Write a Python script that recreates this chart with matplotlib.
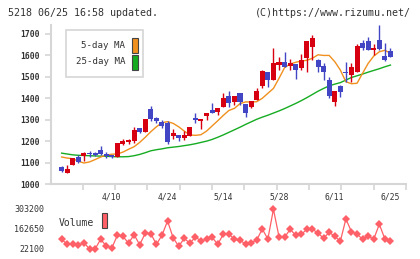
import matplotlib
matplotlib.use('Agg')
import matplotlib.pyplot as plt
from matplotlib.patches import Rectangle
import numpy as np

# daily candles (first one is the day before the period)
opens = [1129, 1079, 1053, 1090, 1124, 1129, 1145, 1146, 1159, 1139,
         1134, 1124, 1188, 1197, 1202, 1261, 1244, 1349, 1308, 1289,
         1286, 1225, 1229, 1215, 1225, 1308, 1294, 1317, 1345, 1336,
         1361, 1409, 1384, 1423, 1373, 1357, 1393, 1457, 1523, 1487,
         1557, 1569, 1549, 1560, 1543, 1587, 1639, 1580, 1551, 1485,
         1384, 1457, 1524, 1509, 1524, 1658, 1667, 1627, 1672, 1597,
         1621]
closes = [1131, 1062, 1070, 1121, 1104, 1146, 1139, 1137, 1140, 1129,
          1124, 1193, 1202, 1207, 1252, 1241, 1303, 1303, 1296, 1272,
          1197, 1238, 1216, 1229, 1266, 1297, 1303, 1331, 1331, 1355,
          1401, 1379, 1409, 1381, 1333, 1386, 1434, 1527, 1487, 1565,
          1569, 1547, 1565, 1533, 1580, 1667, 1681, 1548, 1524, 1411,
          1435, 1431, 1520, 1546, 1644, 1635, 1627, 1635, 1630, 1580,
          1594]
highs = [1131, 1084, 1087, 1121, 1134, 1151, 1153, 1148, 1177, 1149,
         1137, 1193, 1208, 1208, 1266, 1263, 1305, 1364, 1314, 1300,
         1295, 1257, 1230, 1247, 1266, 1333, 1305, 1331, 1380, 1357,
         1425, 1434, 1411, 1425, 1375, 1388, 1446, 1530, 1525, 1635,
         1593, 1616, 1585, 1562, 1607, 1669, 1695, 1582, 1565, 1499,
         1436, 1460, 1569, 1565, 1653, 1672, 1686, 1653, 1742, 1658,
         1635]
lows = [1129, 1056, 1053, 1090, 1099, 1109, 1128, 1133, 1134, 1121,
        1120, 1124, 1181, 1185, 1193, 1236, 1244, 1295, 1286, 1263,
        1188, 1211, 1202, 1205, 1222, 1286, 1257, 1299, 1330, 1322,
        1361, 1361, 1370, 1368, 1314, 1355, 1391, 1449, 1453, 1485,
        1531, 1545, 1531, 1489, 1531, 1524, 1580, 1524, 1485, 1401,
        1365, 1408, 1474, 1477, 1522, 1625, 1625, 1602, 1626, 1574,
        1594]

# moving averages and volume start on the second day
ma5 = [1126, 1121, 1118, 1106, 1098, 1103, 1114, 1126, 1135, 1139,
       1140, 1149, 1162, 1174, 1194, 1218, 1244, 1267, 1286, 1291,
       1283, 1267, 1247, 1229, 1227, 1230, 1247, 1271, 1295, 1320,
       1343, 1353, 1375, 1383, 1383, 1384, 1400, 1423, 1446, 1493,
       1543, 1560, 1568, 1574, 1577, 1587, 1603, 1600, 1600, 1571,
       1532, 1477, 1468, 1470, 1517, 1563, 1597, 1617, 1624, 1610]
ma25 = [1144, 1140, 1136, 1134, 1133, 1132, 1131, 1130, 1129, 1128,
        1127, 1127, 1128, 1132, 1138, 1146, 1155, 1160, 1164, 1169,
        1172, 1175, 1179, 1183, 1188, 1194, 1200, 1208, 1218, 1229,
        1241, 1253, 1265, 1278, 1290, 1302, 1312, 1321, 1331, 1341,
        1352, 1364, 1376, 1389, 1403, 1418, 1433, 1446, 1458, 1466,
        1473, 1485, 1497, 1505, 1513, 1522, 1530, 1538, 1547, 1555]
volumes = [90300, 55100, 55100, 48100, 66400, 22100, 22100, 90300, 43200, 29100,
           118400, 111300, 62200, 122600, 52300, 132400, 129600, 55100, 118400, 218900,
           101500, 41100, 97300, 62200, 106400, 78300, 90300, 104300, 55100, 125400,
           127500, 90300, 85300, 55100, 66400, 85300, 162650, 92400, 301100, 108500,
           104300, 160500, 118400, 125400, 160500, 160500, 134500, 97300, 139500, 111300,
           76200, 232900, 143700, 127500, 90300, 111300, 92400, 195700, 92400, 78300]
date_labels = ['4/10', '4/24', '5/14', '5/28', '6/11', '6/25']
vol_ticks = [22100, 162650, 303200]

W, H = 420, 259
RED = '#d70010'
BLUE = '#4246c4'
ORANGE = '#f0901e'
GREEN = '#16ac22'
VOLC = '#ff5f66'
GRAY = '#d6d6d6'
MONO = 'DejaVu Sans Mono'


def fx(px):
    return px / W


def fy(py):
    return 1 - py / H


fig = plt.figure(figsize=(4.2, 2.59), dpi=100)
fig.patch.set_facecolor('white')

# ---- price panel ----
ax = fig.add_axes([fx(50.5), fy(184), fx(405.8) - fx(50.5), fy(25) - fy(184)])
x = np.arange(len(closes))
o = np.array(opens)
c = np.array(closes)
up = c >= o
colors = np.where(up, RED, BLUE)
ax.vlines(x, lows, highs, colors=colors, linewidth=1.0, zorder=3)
bottoms = np.minimum(o, c)
heights = np.maximum(np.abs(c - o), 2)
ax.bar(x, heights, bottom=bottoms, width=0.9, color=colors, linewidth=0, zorder=4)

xm = np.arange(1, len(closes))
ax.plot(xm, ma25, color=GREEN, linewidth=1.0, zorder=2)
ax.plot(xm, ma5, color=ORANGE, linewidth=1.0, zorder=2)

ax.set_xlim(-1, 62.75)
ax.set_ylim(1000, 1742)
ax.set_yticks(range(1000, 1701, 100))
ax.set_xticks(np.linspace(-1, 62.75, 12)[1:])
ax.set_xticklabels([])
for s in ['top', 'right']:
    ax.spines[s].set_visible(False)
for s in ['left', 'bottom']:
    ax.spines[s].set_color(GRAY)
    ax.spines[s].set_linewidth(1.5)
ax.tick_params(axis='both', colors=GRAY, length=4.5, width=1.2)
ax.tick_params(axis='y', labelcolor='#333333', labelsize=5.8, pad=3.5)
for lab in ax.get_yticklabels():
    lab.set_family(MONO)
    lab.set_fontweight('bold')

# legend box
fig.patches.append(Rectangle((fx(65.5), fy(77)), fx(143) - fx(65.5), fy(30) - fy(77),
                             transform=fig.transFigure, facecolor='white',
                             edgecolor=GRAY, linewidth=1.2, zorder=5))
fig.text(fx(125), fy(45), '5-day MA', ha='right', va='center', family=MONO,
         fontsize=6.6, color='#333333', zorder=6)
fig.text(fx(125), fy(62), '25-day MA', ha='right', va='center', family=MONO,
         fontsize=6.6, color='#333333', zorder=6)
fig.patches.append(Rectangle((fx(131.5), fy(52.5)), fx(6), fy(0) - fy(15),
                             transform=fig.transFigure, facecolor=ORANGE,
                             edgecolor='#444444', linewidth=0.8, zorder=6))
fig.patches.append(Rectangle((fx(131.5), fy(69.5)), fx(6), fy(0) - fy(15),
                             transform=fig.transFigure, facecolor=GREEN,
                             edgecolor='#444444', linewidth=0.8, zorder=6))

# ---- volume panel ----
vx = fig.add_axes([fx(50.5), fy(254), fx(405.8) - fx(50.5), fy(204) - fy(254)])
vx.plot(xm, volumes, color=VOLC, linewidth=0.9, marker='D', markersize=4.2,
        markeredgewidth=0)
vx.set_xlim(-1, 62.75)
vx.set_ylim(22100 - 5 * 7027.5, 303200 + 5 * 7027.5)
for s in vx.spines.values():
    s.set_visible(False)
vx.set_yticks(vol_ticks)
vx.set_yticklabels([str(v) for v in vol_ticks], family=MONO, fontsize=6,
                   color='#333333')
label_idx = list(range(len(closes) - 1, 0, -10))[::-1]
vx.xaxis.tick_top()
vx.set_xticks(label_idx)
vx.set_xticklabels(date_labels, family=MONO, fontsize=5.8, color='#333333')
vx.tick_params(axis='both', length=0)
vx.tick_params(axis='y', pad=4.5)
vx.tick_params(axis='x', pad=2)

fig.text(fx(59), fy(222.5), 'Volume', ha='left', va='center', family=MONO,
         fontsize=7, color='#333333')
fig.patches.append(Rectangle((fx(102), fy(228)), fx(5.5), fy(0) - fy(15),
                             transform=fig.transFigure, facecolor=VOLC,
                             edgecolor='#444444', linewidth=0.8))

# header
fig.text(fx(8), fy(12.5), '5218 06/25 16:58 updated.', ha='left', va='center',
         family=MONO, fontsize=7.2, color='#333333')
fig.text(fx(411), fy(12.5), '(C)https://www.rizumu.net/', ha='right', va='center',
         family=MONO, fontsize=7.2, color='#333333')

fig.savefig('out.png', dpi=100)
